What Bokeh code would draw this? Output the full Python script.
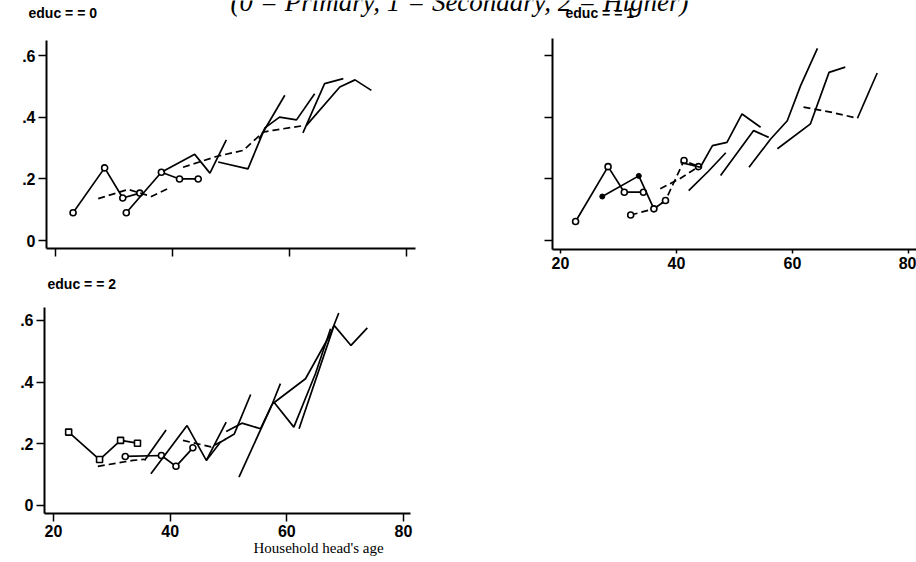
from bokeh.plotting import figure
from bokeh.layouts import column, row
from bokeh.models import Range1d, FixedTicker, Title, CustomJSTickFormatter
from bokeh.core.properties import value
from bokeh.embed import file_html
from bokeh.resources import INLINE

# ---------------- data ----------------
main_title = "(0 = Primary, 1 = Secondary, 2 = Higher)"
panel_titles = ["educ = = 0", "educ = = 1", "educ = = 2"]
x_label = "Household head's age"
age_ticks = [20, 40, 60, 80]
rate_ticks = [0, 0.2, 0.4, 0.6]

# educ == 0 : cohort profiles (age, rate)
educ0_ages = [
    [23.0, 28.4, 31.5, 34.4],
    [32.1, 38.1, 41.2, 44.4],
    [27.3, 32.4, 36.4, 39.5],
    [38.4, 43.8, 46.4, 49.2],
    [41.8, 47.5, 52.1, 55.5, 57.2, 62.6],
    [47.8, 52.9, 55.8, 58.3, 61.2, 64.3],
    [54.8, 59.2],
    [62.3, 66.0, 69.2],
    [62.9, 68.6, 71.2, 74.0],
]
educ0_rates = [
    [0.090, 0.236, 0.138, 0.154],
    [0.090, 0.222, 0.200, 0.200],
    [0.136, 0.166, 0.143, 0.171],
    [0.225, 0.280, 0.219, 0.327],
    [0.238, 0.273, 0.293, 0.352, 0.358, 0.374],
    [0.255, 0.233, 0.366, 0.401, 0.392, 0.477],
    [0.330, 0.472],
    [0.350, 0.510, 0.526],
    [0.374, 0.499, 0.522, 0.488],
]

# educ == 1
educ1_ages = [
    [22.6, 28.2, 31.0, 34.3],
    [27.2, 33.5, 36.1, 38.1],
    [32.1, 36.1, 38.1, 41.3, 43.8],
    [37.2, 40.5, 43.8],
    [40.7, 44.1, 46.2, 48.7, 51.3, 54.5],
    [42.1, 45.5, 48.5],
    [47.6, 53.3, 55.9],
    [52.5, 56.2, 59.1, 61.4, 64.3],
    [57.4, 63.1, 66.3, 69.1],
    [61.9, 66.6, 71.2],
    [71.2, 74.6],
]
educ1_rates = [
    [0.062, 0.240, 0.157, 0.157],
    [0.143, 0.210, 0.103, 0.130],
    [0.083, 0.103, 0.130, 0.260, 0.240],
    [0.168, 0.200, 0.240],
    [0.254, 0.238, 0.308, 0.319, 0.411, 0.368],
    [0.162, 0.225, 0.285],
    [0.211, 0.357, 0.335],
    [0.238, 0.329, 0.389, 0.503, 0.624],
    [0.298, 0.379, 0.546, 0.563],
    [0.433, 0.417, 0.397],
    [0.397, 0.544],
]

# educ == 2
educ2_ages = [
    [22.6, 27.9, 31.5, 34.4],
    [27.6, 33.6, 35.6],
    [32.3, 38.5, 41.0, 43.9],
    [35.6, 39.3],
    [36.7, 42.9, 46.2, 49.6],
    [42.2, 47.0, 49.5],
    [46.2, 48.6, 51.0, 53.8],
    [49.6, 52.3, 55.5, 57.5, 58.9],
    [51.8, 57.5],
    [57.5, 63.2, 67.5, 68.9],
    [57.8, 61.2, 64.9, 67.5],
    [62.1, 68.1, 71.0, 73.8],
]
educ2_rates = [
    [0.238, 0.149, 0.211, 0.202],
    [0.127, 0.146, 0.150],
    [0.159, 0.162, 0.127, 0.187],
    [0.146, 0.245],
    [0.103, 0.259, 0.146, 0.270],
    [0.211, 0.190, 0.215],
    [0.146, 0.205, 0.232, 0.360],
    [0.240, 0.267, 0.249, 0.329, 0.395],
    [0.092, 0.329],
    [0.329, 0.411, 0.557, 0.624],
    [0.335, 0.254, 0.427, 0.573],
    [0.249, 0.584, 0.519, 0.576],
]

# ---------------- styles (not data) ----------------
DASH = "7 4"
educ0_dash = ["solid", "solid", DASH, "solid", DASH, "solid", "solid", "solid", "solid"]
educ0_mark = ["open", "open", None, None, None, None, None, None, None]
educ1_dash = ["solid", "solid", DASH, DASH, "solid", "solid", "solid", "solid", "solid", DASH, "solid"]
educ1_mark = ["open", "dot", "open", None, None, None, None, None, None, None, None]
educ2_dash = ["solid", DASH, "solid", "solid", "solid", DASH, "solid", "solid", "solid", "solid", "solid", "solid"]
educ2_mark = ["square", None, "open", None, None, None, None, None, None, None, None, None]

TICK_FONT = "Liberation Sans"


def fmt_rate():
    return CustomJSTickFormatter(code="return tick == 0 ? '0' : tick.toFixed(1).replace(/^0/, '')")


def fmt_age():
    return CustomJSTickFormatter(code="return tick.toFixed(0)")


def blank():
    return CustomJSTickFormatter(code="return ''")


def panel(width, height, borders, xr, yr, show_x, show_y, xtick_out=8):
    l, r, t, b = borders
    p = figure(width=width, height=height, x_range=Range1d(*xr), y_range=Range1d(*yr),
               output_backend="svg", toolbar_location=None, title_location=None,
               min_border_left=l, min_border_right=r, min_border_top=t, min_border_bottom=b)
    p.frame_align = False
    p.grid.visible = False
    p.outline_line_color = None
    p.background_fill_color = "white"
    p.border_fill_color = "white"
    for ax, ticks, show, fmt in ((p.xaxis[0], age_ticks, show_x, fmt_age()),
                                 (p.yaxis[0], rate_ticks, show_y, fmt_rate())):
        ax.ticker = FixedTicker(ticks=ticks, minor_ticks=[])
        ax.formatter = fmt if show else blank()
        ax.axis_line_width = 2
        ax.axis_line_color = "black"
        ax.major_tick_line_width = 1.5
        ax.major_tick_line_color = "black"
        ax.major_tick_in = 0
        ax.minor_tick_line_color = None
        ax.major_label_text_font = TICK_FONT
        ax.major_label_text_font_style = "bold"
        ax.major_label_text_font_size = "16px"
        ax.major_label_text_color = "black"
    p.xaxis.major_tick_out = xtick_out
    p.yaxis.major_tick_out = 8
    p.xaxis.major_label_standoff = 3
    p.yaxis.major_label_standoff = 3
    return p


def draw(p, ages, rates, dashes, marks):
    for a, r, d, m in zip(ages, rates, dashes, marks):
        p.line(a, r, line_color="black", line_width=1.7, line_dash=d)
        if m == "open":
            p.scatter(a, r, marker="circle", size=6, fill_color="white",
                      line_color="black", line_width=1.6)
        elif m == "square":
            p.scatter(a, r, marker="square", size=6, fill_color="white",
                      line_color="black", line_width=1.6)
        elif m == "dot":
            p.scatter(a, r, marker="circle", size=5, fill_color="black",
                      line_color="black", line_width=1)


def strip(height):
    # a bare text band; its data coordinates are page pixels
    s = figure(width=916, height=height,
               x_range=Range1d(0, 916), y_range=Range1d(height, 0),
               output_backend="svg", toolbar_location=None, title_location=None,
               min_border=0, x_axis_location=None, y_axis_location=None)
    s.frame_align = False
    s.grid.visible = False
    s.outline_line_color = None
    s.background_fill_color = "white"
    s.border_fill_color = "white"
    return s


top = strip(20)
# main title: its upper half falls outside the page, as in the scan
top.text(x=[459], y=[1.5], text=[main_title], text_font=value("Liberation Serif"),
         text_font_style="italic", text_font_size="27px", text_align="center",
         text_baseline="middle", text_color="black")
top.text(x=[28, 565], y=[12.5, 12.5], text=panel_titles[:2], text_font=value(TICK_FONT),
         text_font_style="bold", text_font_size="14px", text_align="left",
         text_baseline="middle", text_color="black")

p1 = panel(470, 256, (46, 55, 20, 28), (18.46, 81.54), (-0.026, 0.650), False, True)
draw(p1, educ0_ages, educ0_rates, educ0_dash, educ0_mark)

p2 = panel(446, 256, (82, 0, 18, 27), (18.62, 81.38), (-0.029, 0.656), True, False, xtick_out=4)
draw(p2, educ1_ages, educ1_rates, educ1_dash, educ1_mark)

mid = strip(31)
mid.text(x=[47], y=[7], text=[panel_titles[2]], text_font=value(TICK_FONT),
         text_font_style="bold", text_font_size="14px", text_align="left",
         text_baseline="middle", text_color="black")

p3 = panel(470, 255, (44, 60, 0, 49), (18.46, 81.2), (-0.026, 0.642), True, True)
draw(p3, educ2_ages, educ2_rates, educ2_dash, educ2_mark)
p3.add_layout(Title(text=x_label, align="left", offset=209, standoff=-4,
                    text_font="Liberation Serif", text_font_style="normal",
                    text_font_size="15px", text_color="black"), "below")

layout = column(top, row(p1, p2), mid, p3)
open("out.html", "w").write(file_html(layout, INLINE))
